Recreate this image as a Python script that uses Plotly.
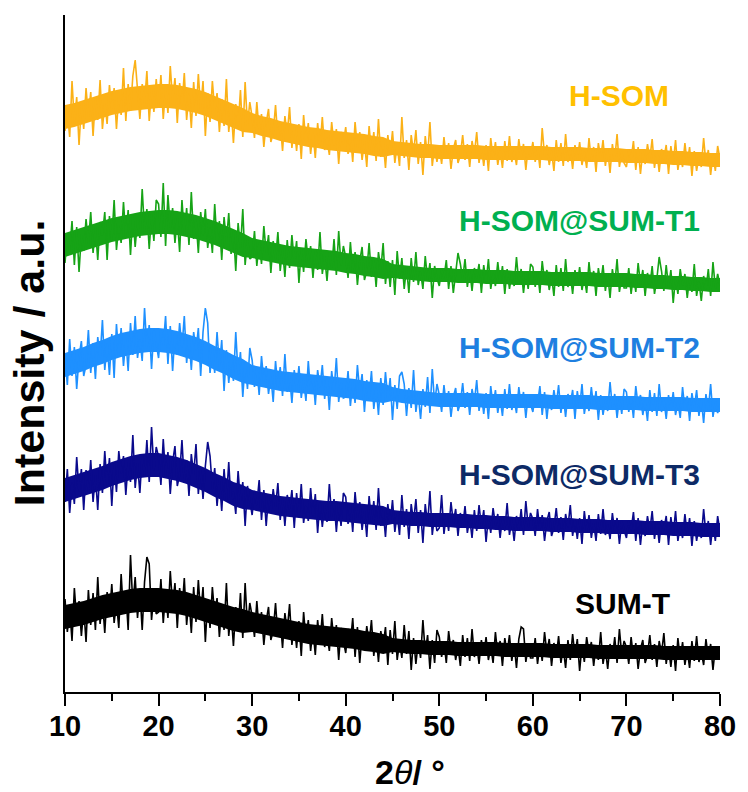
import numpy as np
import plotly.graph_objects as go

# 2-theta sampling grid (degrees) for the measured scans
two_theta = np.linspace(10, 80, 281)
# 2-theta grid (1 degree) for the dense noise core
band_theta = np.linspace(10, 80, 71)

# Raw intensities (a.u.), one list per sample
sum_t = [78,45,69,36, 89,56,76,41, 69,35,87,52, 84,47,100,53, 78,44,85,61, 93,54,75,49, 103,63,86,47, 122,71,100,59, 88,47,95,120, 113,57,83,63,
         65,98,54,85, 59,106,71,94, 49,89,66,99, 52,79,44,90, 55,97,62,90, 35,78,49,90, 61,79,40,73, 47,94,41,66, 31,70,47,84, 39,94,50,74,
         61,40,76,46, 65,32,56,70, 37,46,74,40, 58,29,64,46, 73,32,55,29, 56,21,65,37, 57,26,48,22, 57,33,63,30, 43,26,59,35, 52,17,49,37,
         24,48,34,59, 20,50,14,44, 27,51,33,57, 21,43,15,46, 31,50,12,47, 23,56,17,35, 19,52,23,46, 7,39,13,35, 19,57,24,42, 8,37,14,47,
         40,20,35,14, 46,26,37,17, 31,11,42,20, 39,16,48,20, 33,13,37,22, 40,17,30,14, 45,22,36,11, 39,24,42,16, 33,9,38,50, 48,15,30,19,
         19,39,13,32, 16,45,24,38, 11,34,20,41, 14,29,9,37, 17,43,21,38, 6,32,15,40, 24,35,11,32, 17,45,13,28, 8,33,19,40, 14,48,22,36,
         30,13,40,19, 34,8,28,37, 14,22,42,17, 33,10,36,23, 44,13,30,10, 32,6,39,18, 35,12,27,9, 36,16,41,15, 26,12,38,19, 33,7,30,21,
         27]

h_som_sum_t3 = [52,85,41,72, 50,97,62,85, 44,84,61,94, 52,79,44,90, 61,103,68,96, 48,91,62,103, 80,98,59,92, 72,119,66,91, 61,100,77,114, 72,127,83,107,
                97,69,115,78, 102,60,92,108, 68,79,114,71, 94,58,100,79, 110,60,87,55, 88,112,98,65, 86,48,75,43, 85,53,92,50, 62,40,83,52, 72,28,68,52,
                39,63,49,74, 34,64,28,58, 41,65,47,71, 34,56,28,59, 45,64,26,61, 37,70,31,49, 33,66,37,60, 21,53,27,49, 32,70,37,55, 22,51,28,61,
                57,30,50,22, 62,36,52,24, 43,17,58,31, 53,24,66,28, 44,17,50,30, 54,22,40,19, 59,27,45,15, 50,32,55,21, 44,11,50,29, 63,19,39,23,
                26,59,20,39, 23,52,31,45, 18,41,27,48, 21,36,16,44, 23,49,27,44, 12,38,21,46, 29,40,16,37, 23,51,19,34, 13,38,24,45, 19,53,27,41,
                35,18,45,24, 39,13,33,42, 18,26,46,21, 37,14,40,27, 49,18,35,15, 36,10,43,22, 39,16,31,13, 40,20,45,19, 29,15,41,22, 36,10,33,24,
                16,33,24,42, 13,36,9,32, 18,38,23,43, 15,32,11,34, 24,38,9,37, 19,43,13,28, 16,40,19,36, 8,33,13,28, 16,45,19,33, 9,30,13,38,
                22]

h_som_sum_t2 = [72,44,90,53, 82,40,72,88, 53,64,99,56, 86,50,92,71, 109,59,86,54, 95,51,105,72, 101,63,90,58, 106,74,113,71, 90,68,121,80, 104,60,100,84,
                71,100,83,113, 65,103,58,96, 74,106,81,113, 66,92,59,97, 78,101,53,97, 121,106,56,81, 56,97,62,89, 38,79,46,73, 48,97,54,77, 32,67,40,81,
                69,42,62,34, 73,47,63,35, 53,27,68,41, 62,33,75,37, 53,26,59,39, 63,31,49,28, 68,36,54,24, 59,41,64,30, 52,19,58,37, 71,27,47,31,
                32,58,23,47, 26,64,37,55, 17,49,30,58, 20,42,14,51, 24,57,30,51, 9,44,20,53, 57,45,13,41, 21,59,17,35, 10,40,22,52, 16,60,25,45,
                34,17,44,23, 38,12,32,41, 18,26,46,21, 37,14,40,27, 49,18,35,15, 36,10,43,22, 39,16,31,13, 40,20,45,19, 30,16,42,23, 37,11,34,25,
                17,34,25,43, 14,37,10,33, 19,39,24,44, 16,33,12,35, 25,39,10,38, 21,45,15,30, 18,42,21,38, 9,34,14,29, 18,47,21,35, 11,32,15,40,
                37,17,32,11, 43,23,34,14, 28,8,39,17, 36,13,45,17, 30,10,34,19, 37,14,27,11, 42,19,33,8, 36,21,39,13, 30,6,35,19, 45,12,27,16,
                25]

h_som_sum_t1 = [46,75,58,88, 44,82,37,75, 58,90,65,97, 56,82,49,87, 74,97,49,93, 68,109,59,84, 66,107,72,99, 54,95,62,89, 71,120,77,100, 60,95,68,109,
                105,72,126,63, 114,81,101,66, 91,57,109,74, 101,64,117,70, 90,56,97,73, 100,61,82,56, 105,65,88,49, 92,67,96,55, 79,38,86,60, 100,44,70,50,
                52,78,43,67, 45,83,56,74, 36,68,49,77, 38,60,32,69, 41,74,47,68, 26,61,37,70, 48,63,31,59, 39,77,35,53, 28,58,40,70, 34,78,43,63,
                52,31,67,37, 57,24,48,62, 29,38,66,32, 51,22,57,39, 66,25,48,22, 49,14,58,30, 51,20,42,16, 51,27,57,24, 37,20,53,29, 46,11,43,31,
                23,40,31,49, 20,43,16,39, 56,45,30,50, 22,39,18,41, 31,45,16,44, 26,50,20,35, 23,47,26,43, 15,40,20,35, 23,52,26,40, 16,37,20,45,
                42,22,37,16, 48,28,39,19, 33,13,44,22, 41,18,50,22, 35,15,39,24, 42,19,32,16, 47,24,38,13, 41,26,44,18, 35,11,40,24, 50,17,32,21,
                21,41,15,34, 17,46,25,39, 13,36,22,43, 15,30,52,38, 18,44,22,39, 6,32,15,40, 24,35,11,32, 17,45,13,28, 8,33,19,40, 13,47,21,35,
                24]

h_som = [53,73,47,103, 61,87,39,80, 55,96,67,92, 48,87,64,104, 55,81,60,99, 72,96,55,89, 69,116,63,100, 73,108,124,90, 65,100,80,113, 63,96,72,105,
         76,109,65,96, 71,118,83,106, 61,101,78,111, 64,91,56,102, 68,110,75,103, 48,91,62,103, 73,91,52,85, 58,105,52,77, 41,80,57,94, 47,102,58,82,
         67,46,82,52, 70,37,61,75, 42,51,79,45, 62,33,68,50, 77,36,59,33, 60,25,69,41, 61,30,52,26, 61,37,67,34, 46,29,62,38, 55,20,52,40,
         57,30,50,22, 62,36,52,24, 43,17,58,31, 52,23,65,27, 43,16,49,29, 53,21,39,18, 67,26,44,14, 49,31,54,20, 42,9,48,27, 62,18,38,22,
         37,20,47,26, 41,15,35,44, 21,29,49,24, 40,17,43,30, 52,21,38,18, 39,13,46,25, 42,19,34,16, 43,23,48,22, 33,19,45,26, 40,14,37,28,
         42,22,37,16, 56,28,39,19, 33,13,44,22, 41,18,50,22, 35,15,39,24, 42,19,32,16, 46,23,37,12, 41,26,44,18, 35,11,40,24, 50,17,32,21,
         17,34,25,43, 14,37,10,33, 20,40,25,45, 16,33,12,35, 25,39,10,38, 20,44,14,29, 17,41,20,37, 8,33,13,28, 17,46,20,34, 9,30,13,38,
         25]

# Solid core of the noise band (upper / lower edge) read per degree
sum_t_hi = [72,74,76,79,82,84,86,88,89,89, 89,88,87,85,82,79,76,73,70,68, 65,63,61,59,57,55,53,52,51,50,
            49,48,46,45,43,39,38,37,37,36, 36,36,35,35,35,35,35,34,34,34, 34,34,33,33,33,33,33,32,32,32,
            32,32,32,32,31,31,31,31,31,31,31]
sum_t_lo = [48,50,52,55,58,60,62,64,65,65, 65,64,63,61,58,55,52,49,46,44, 45,43,41,39,37,35,33,32,31,30,
            29,28,26,25,23,25,24,23,23,22, 22,22,21,21,21,21,21,20,20,20, 20,20,19,19,19,19,19,18,18,18,
            18,18,18,18,17,17,17,17,17,17,17]
t3_hi = [76,79,82,85,88,92,95,98,100,101, 101,99,97,94,90,86,81,77,72,69, 64,62,60,58,57,56,55,54,53,53,
         52,51,50,49,48,44,43,42,42,41, 41,41,40,40,39,39,38,38,37,37, 37,37,36,36,36,35,35,35,34,34,
         34,34,33,33,33,32,32,32,31,31,31]
t3_lo = [52,55,58,61,64,68,71,74,76,77, 77,75,73,70,66,62,57,53,48,45, 44,42,40,38,37,36,35,34,33,33,
         32,31,30,29,28,30,29,28,28,27, 27,27,26,26,25,25,24,24,23,23, 23,23,22,22,22,21,21,21,20,20,
         20,20,19,19,19,18,18,18,17,17,17]
t2_hi = [76,79,82,86,89,93,96,98,100,101, 101,100,98,95,92,88,83,79,74,70, 64,62,60,58,57,56,55,54,53,52,
         51,50,48,47,46,42,40,39,38,37, 36,36,36,36,36,35,35,35,35,35, 35,35,34,34,34,34,34,33,33,33,
         33,33,32,32,32,32,32,31,31,31,31]
t2_lo = [52,55,58,62,65,69,72,74,76,77, 77,76,74,71,68,64,59,55,50,46, 44,42,40,38,37,36,35,34,33,32,
         31,30,28,27,26,28,26,25,24,23, 22,22,22,22,22,21,21,21,21,21, 21,21,20,20,20,20,20,19,19,19,
         19,19,18,18,18,18,18,17,17,17,17]
t1_hi = [76,79,82,85,88,91,93,95,97,98, 99,99,98,96,94,91,88,84,80,76, 71,69,67,65,63,62,61,60,59,58,
         56,55,53,52,50,45,44,43,42,41, 41,41,40,40,40,39,39,39,38,38, 38,38,37,37,37,37,37,36,36,36,
         36,35,35,34,34,33,33,32,32,31,31]
t1_lo = [52,55,58,61,64,67,69,71,73,74, 75,75,74,72,70,67,64,60,56,52, 51,49,47,45,43,42,41,40,39,38,
         36,35,33,32,30,31,30,29,28,27, 27,27,26,26,26,25,25,25,24,24, 24,24,23,23,23,23,23,22,22,22,
         22,21,21,20,20,19,19,18,18,17,17]
h_som_hi = [79,81,84,87,90,93,95,97,98,99, 100,100,99,97,95,92,88,84,80,76, 71,68,66,63,61,59,57,56,54,53,
            52,51,50,48,47,43,42,41,40,40, 39,39,39,39,39,38,38,38,38,38, 38,38,37,37,37,37,36,36,36,36,
            35,35,35,34,34,33,33,32,32,31,31]
h_som_lo = [55,57,60,63,66,69,71,73,74,75, 76,76,75,73,71,68,64,60,56,52, 51,48,46,43,41,39,37,36,34,33,
            32,31,30,28,27,29,28,27,26,26, 25,25,25,25,25,24,24,24,24,24, 24,24,23,23,23,23,22,22,22,22,
            21,21,21,20,20,19,19,18,18,17,17]

sample_names = ["SUM-T", "H-SOM@SUM-T3", "H-SOM@SUM-T2", "H-SOM@SUM-T1", "H-SOM"]
sample_data = [sum_t, h_som_sum_t3, h_som_sum_t2, h_som_sum_t1, h_som]
band_hi = [sum_t_hi, t3_hi, t2_hi, t1_hi, h_som_hi]
band_lo = [sum_t_lo, t3_lo, t2_lo, t1_lo, h_som_lo]
stack_offsets = [15, 138, 263, 383, 508]
line_colors = ["#000000", "#0A0A8C", "#1E90FF", "#16A316", "#FBB117"]
label_colors = ["#000000", "#0D2A66", "#1E7FE0", "#00B050", "#FFC000"]
# label anchor positions (2theta, stacked intensity)
label_x = [69.6, 65.0, 65.0, 65.0, 69.2]
label_y = [89, 218, 345, 472, 597]

x_ticks = [10, 20, 30, 40, 50, 60, 70, 80]

FONT = "Arial, 'Liberation Sans', Helvetica, sans-serif"

fig = go.Figure()
for name, vals, hi, lo, off, col in zip(sample_names, sample_data, band_hi, band_lo,
                                         stack_offsets, line_colors):
    fig.add_trace(go.Scatter(x=band_theta, y=np.array(lo) + off, mode="lines",
                             line=dict(color=col, width=0), hoverinfo="skip"))
    fig.add_trace(go.Scatter(x=band_theta, y=np.array(hi) + off, mode="lines",
                             line=dict(color=col, width=0), fill="tonexty",
                             fillcolor=col, hoverinfo="skip"))
    fig.add_trace(go.Scatter(
        x=two_theta, y=np.array(vals) + off, mode="lines", name=name,
        line=dict(color=col, width=1.6), hoverinfo="skip"))

for name, lx, ly, col in zip(sample_names, label_x, label_y, label_colors):
    fig.add_annotation(x=lx, y=ly, xref="x", yref="y", text="<b>%s</b>" % name,
                       showarrow=False, xanchor="center", yanchor="middle",
                       font=dict(family=FONT, size=30, color=col))

fig.add_annotation(x=-0.055, y=0.487, xref="paper", yref="paper",
                   text="<b>Intensity / a.u.</b>", textangle=-90, showarrow=False,
                   xanchor="center", yanchor="middle",
                   font=dict(family=FONT, size=43, color="black"))
fig.add_annotation(x=46.9, y=-0.118, xref="x", yref="paper",
                   text="<b>2</b><i>θ</i><b>/ °</b>", showarrow=False,
                   xanchor="center", yanchor="middle",
                   font=dict(family=FONT, size=34, color="black"))

fig.update_layout(
    width=748, height=792,
    margin=dict(l=65, r=24, t=15, b=100),
    plot_bgcolor="white", paper_bgcolor="white",
    showlegend=False,
    xaxis=dict(range=[10, 80], tickvals=x_ticks, ticktext=[str(v) for v in x_ticks],
               showline=True, linecolor="black", linewidth=2,
               ticks="outside", ticklen=12, tickwidth=2, tickcolor="black",
               ticklabelstandoff=-5,
               tickfont=dict(family=FONT, size=29, color="black", weight="bold"),
               showgrid=False, zeroline=False,
               minor=dict(ticks="outside", ticklen=7, tickwidth=2, tickcolor="black",
                          dtick=5, tick0=5, showgrid=False)),
    yaxis=dict(range=[0, 677], showline=True, linecolor="black", linewidth=2,
               showticklabels=False, ticks="", showgrid=False, zeroline=False),
)

fig.write_html("out.html")
